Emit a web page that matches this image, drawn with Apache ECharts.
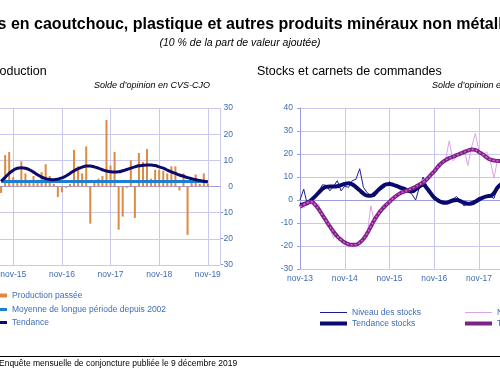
<!DOCTYPE html>
<html>
<head>
<meta charset="utf-8">
<script src="https://cdn.jsdelivr.net/npm/echarts@6/dist/echarts.min.js"></script>
<style>
  html, body { margin: 0; padding: 0; background: #fff; }
  #chart { width: 500px; height: 376px; }
</style>
</head>
<body>
<div id="chart"></div>
<script>
// left panel: monthly, août-15 .. nov-19 (x index 0 = nov-14)
const prodStart = 9
const production = [-2.5, 12, 13.2, 3.6, 2, 9.6, 5, 2, 4, 2, 5.5, 8.5, 4, 1, -4, -2.2, -0.5, 1, 14, 7.7,
  5, 15.3, -14.2, 2, 3, 4, 25.4, 8, 13.2, -16.5, -11.5, -0.5, 10, -12, 12.8, 9.4, 14.3, 3, 6.4, 6.4,
  6, 5, 7.7, 7.7, -1.5, 5, -18.5, 2, 4.6, 1, 5, 1]
const prodTrend = [2.0, 3.5, 5.0, 6.2, 7.0, 7.2, 7.0, 6.4, 5.5, 4.5, 3.6, 3.0, 2.7, 2.6, 2.8, 3.3, 4.0, 5.0, 6.0, 6.8,
  7.4, 7.8, 7.8, 7.5, 7.0, 6.4, 5.9, 5.6, 5.5, 5.6, 6.0, 6.5, 7.0, 7.5, 7.9, 8.1, 8.2, 8.2, 8.0, 7.5,
  7.0, 6.3, 5.6, 5.0, 4.4, 3.9, 3.4, 3.0, 2.6, 2.3, 2.0, 1.7]
const longTermAverage = 1.9
const leftTicks = ['nov-14', 'nov-15', 'nov-16', 'nov-17', 'nov-18', 'nov-19']

// right panel: monthly from nov-13 (x index 0)
const stockLevel = [0, 4.7, -2.2, -1, 1.5, 3.7, 6.6, 6.4, 4, 5.9, 8.4, 4, 6, 5.5, 8.4, 9, 13.6, 5.5, 3.2, 1.8,
  1.5, 3.7, 4.7, 6, 8, 6.5, 5.8, 4.4, 5.5, 4.0, 2.5, 0, 5.5, 10, 6, 2.5, 0, 0.5, -0.5, -1.5,
  -0.5, 0.5, 1.5, -0.5, -2.6, -1.5, -0.7, 0, 1.2, 1, 1.5, 1.5, 0.7, 6, 7]
const stockTrend = [-2.2, -1.8, -1.2, 0, 1.5, 3.2, 4.8, 5.7, 5.9, 5.9, 6.0, 6.5, 7.0, 7.3, 6.8, 5.6, 4.2, 2.8, 1.9, 1.8,
  2.8, 4.4, 5.8, 6.8, 7.0, 6.6, 6.0, 5.4, 4.8, 4.0, 3.8, 4.6, 5.8, 6.6, 5.2, 3.0, 1.0, -0.2, -1.0, -1.2,
  -0.8, -0.2, 0, -0.5, -1.2, -1.6, -1.5, -0.8, 0.2, 1.0, 1.6, 1.8, 3.0, 5.5, 7.0]
const orderLevel = [-2, -3.5, -1.5, 0, -1, -2, -7, -10, -12, -16.5, -15, -17, -19, -20.5, -19, -20, -18, -17.5, -15, -2.5,
  -10, -7, -3, -3, 0, 1, 2.5, 2.5, 4.5, 3.5, 6, 5.5, 7.5, 9, 8, 12, 12.5, 16, 15.5, 17.5,
  25.7, 17, 19, 20, 22, 15, 23, 29, 21, 19, 21, 17, 9.5, 18, 16]
const orderTrend = [-3, -2, -1.2, -0.8, -2, -4, -6.5, -9, -11.5, -13.8, -15.8, -17.3, -18.5, -19.2, -19.5, -19.4, -18.5, -17, -14.5, -11.5,
  -8.5, -6, -4, -2.3, -0.8, 0.8, 2, 3, 3.7, 4.3, 5, 5.8, 6.7, 7.6, 9, 10.8, 12.5, 14.5, 16.2, 17.3,
  18.2, 18.8, 19.5, 20.2, 20.8, 21.5, 22, 21.8, 20.8, 19.8, 18.6, 17.6, 17.2, 17, 17]
const rightTicks = ['nov-13', 'nov-14', 'nov-15', 'nov-16', 'nov-17', 'nov-18', 'nov-19']

const font = 'Liberation Sans, Arial, sans-serif'
const blueText = '#3f6cb3'
const gridColor = '#c9c9f0'
const axisColor = '#9c9cdc'

const pts = (arr, start) => arr.map((v, i) => [start + i, v])

// one legend entry, drawn as a bar of the given thickness
function legendItem(name, left, top, width, thick) {
  return {
    orient: 'vertical', left: left, top: top, padding: 0,
    itemWidth: width, itemHeight: thick, icon: 'rect',
    textStyle: { fontSize: 8.5, color: blueText },
    data: [name]
  }
}

const chart = echarts.init(document.getElementById('chart'))
const option = {
  animation: false,
  textStyle: { fontFamily: font },
  graphic: [
    { type: 'text', x: 243, y: 25, style: { text: 'Produits en caoutchouc, plastique et autres produits minéraux non métalliques', font: 'bold 16px ' + font, fill: '#000', textAlign: 'center', textVerticalAlign: 'middle' } },
    { type: 'text', x: 240, y: 43, style: { text: '(10 % de la part de valeur ajoutée)', font: 'italic 10.5px ' + font, fill: '#000', textAlign: 'center', textVerticalAlign: 'middle' } },
    { type: 'text', x: -13, y: 72, style: { text: 'Production', font: '12.5px ' + font, fill: '#000', textVerticalAlign: 'middle' } },
    { type: 'text', x: 210, y: 85, style: { text: 'Solde d\u2019opinion en CVS-CJO', font: 'italic 9px ' + font, fill: '#000', textAlign: 'right', textVerticalAlign: 'middle' } },
    { type: 'text', x: 257, y: 72, style: { text: 'Stocks et carnets de commandes', font: '12.5px ' + font, fill: '#000', textVerticalAlign: 'middle' } },
    { type: 'text', x: 432, y: 85, style: { text: 'Solde d\u2019opinion en CVS-CJO', font: 'italic 9px ' + font, fill: '#000', textVerticalAlign: 'middle' } },
    { type: 'line', shape: { x1: 0, y1: 356.5, x2: 500, y2: 356.5 }, style: { stroke: '#000', lineWidth: 1 } },
    { type: 'text', x: -1, y: 364, style: { text: 'Enquête mensuelle de conjoncture publiée le 9 décembre 2019', font: '8.5px ' + font, fill: '#000', textVerticalAlign: 'middle' } }
  ],
  legend: [
    legendItem('Production passée', 0, 291, 7, 4),
    legendItem('Moyenne de longue période depuis 2002', 0, 305, 7, 3),
    legendItem('Tendance', 0, 318, 7, 3),
    legendItem('Niveau des stocks', 320, 308, 27, 1),
    legendItem('Tendance stocks', 320, 319, 27, 4),
    legendItem('Niveau des carnets', 465, 308, 27, 1),
    legendItem('Tendance carnets', 465, 319, 27, 4)
  ],
  grid: [
    { left: -35.4, right: 280, top: 108, bottom: 111, outerBoundsMode: 'none', containLabel: false },
    { left: 300, right: -91, top: 108, bottom: 107, outerBoundsMode: 'none', containLabel: false }
  ],
  xAxis: [
    {
      gridIndex: 0, type: 'value', min: 0, max: 63, interval: 12,
      axisLine: { lineStyle: { color: axisColor } },
      axisTick: { show: false },
      splitLine: { lineStyle: { color: gridColor } },
      axisLabel: { color: blueText, fontSize: 8.5, margin: 5, formatter: v => (v % 12 === 0 ? leftTicks[v / 12] : '') }
    },
    {
      gridIndex: 1, type: 'value', min: 0, max: 78, interval: 12,
      axisLine: { lineStyle: { color: axisColor } },
      axisTick: { show: false },
      splitLine: { lineStyle: { color: gridColor } },
      axisLabel: { color: blueText, fontSize: 8.5, margin: 5, formatter: v => (v % 12 === 0 ? rightTicks[v / 12] : '') }
    }
  ],
  yAxis: [
    {
      gridIndex: 0, type: 'value', position: 'right', min: -30, max: 30, interval: 10,
      axisLine: { show: true, lineStyle: { color: axisColor } },
      axisTick: { show: true, length: 3, lineStyle: { color: axisColor } },
      splitLine: { lineStyle: { color: gridColor } },
      axisLabel: { color: blueText, fontSize: 8.5, margin: 13, align: 'right' }
    },
    {
      gridIndex: 1, type: 'value', min: -30, max: 40, interval: 10,
      axisLine: { show: true, lineStyle: { color: axisColor } },
      axisTick: { show: true, length: 3, lineStyle: { color: axisColor } },
      splitLine: { lineStyle: { color: gridColor } },
      axisLabel: { color: blueText, fontSize: 8.5, margin: 7 }
    }
  ],
  series: [
    {
      name: 'Production passée', type: 'bar', xAxisIndex: 0, yAxisIndex: 0,
      barWidth: 2, itemStyle: { color: '#de8a40' },
      data: pts(production, prodStart)
    },
    {
      name: 'Moyenne de longue période depuis 2002', type: 'line', xAxisIndex: 0, yAxisIndex: 0,
      symbol: 'none', lineStyle: { color: '#1c7fd0', width: 3 }, itemStyle: { color: '#1c7fd0' },
      data: production.map((v, i) => [prodStart + i, longTermAverage])
    },
    {
      name: 'Tendance', type: 'line', xAxisIndex: 0, yAxisIndex: 0, smooth: true,
      symbol: 'none', lineStyle: { color: '#0b0b6c', width: 3 }, itemStyle: { color: '#0b0b6c' },
      data: pts(prodTrend, prodStart)
    },
    {
      name: 'Niveau des stocks', type: 'line', xAxisIndex: 1, yAxisIndex: 1,
      symbol: 'none', lineStyle: { color: '#1d1d90', width: 1 }, itemStyle: { color: '#1d1d90' },
      data: pts(stockLevel, 0)
    },
    {
      name: 'Niveau des carnets', type: 'line', xAxisIndex: 1, yAxisIndex: 1,
      symbol: 'none', lineStyle: { color: '#dba3e6', width: 1 }, itemStyle: { color: '#dba3e6' },
      data: pts(orderLevel, 0)
    },
    {
      name: 'Tendance stocks', type: 'line', xAxisIndex: 1, yAxisIndex: 1, smooth: true,
      symbol: 'none', lineStyle: { color: '#0a0a6e', width: 4 }, itemStyle: { color: '#0a0a6e' },
      data: pts(stockTrend, 0)
    },
    {
      name: 'Tendance carnets', type: 'line', xAxisIndex: 1, yAxisIndex: 1, smooth: true,
      symbol: 'none', lineStyle: { color: '#7a2585', width: 4 }, itemStyle: { color: '#7a2585' },
      data: pts(orderTrend, 0)
    },
    {
      name: 'Tendance carnets', type: 'line', xAxisIndex: 1, yAxisIndex: 1, smooth: true,
      symbol: 'none', lineStyle: { color: '#e35ad6', width: 1.5, type: [2, 2] }, itemStyle: { color: '#e35ad6' },
      data: pts(orderTrend, 0)
    }
  ]
}
chart.setOption(option)
</script>
</body>
</html>
